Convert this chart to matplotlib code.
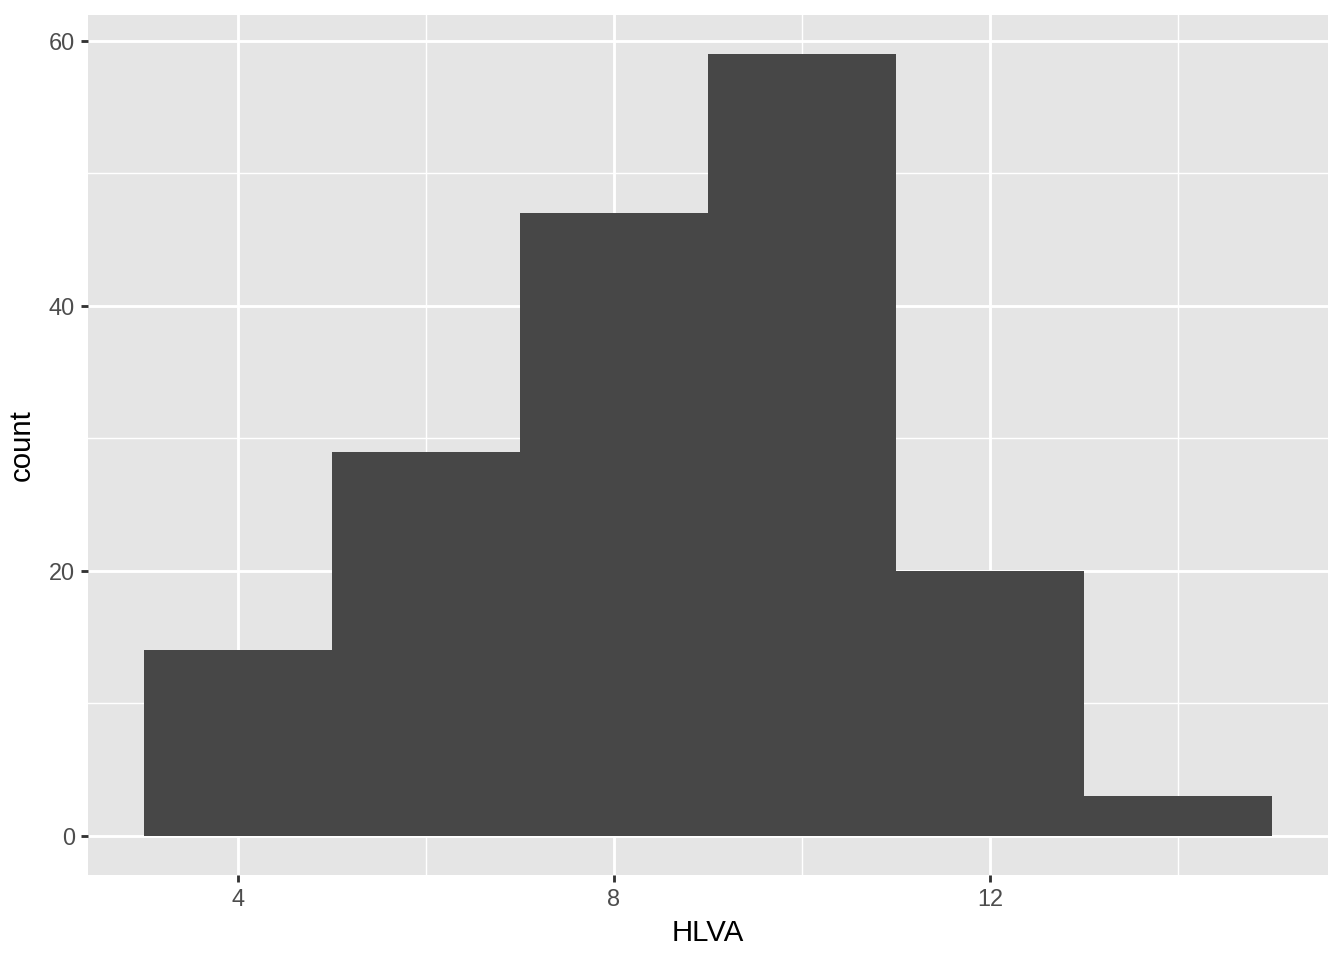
import matplotlib
matplotlib.use("Agg")
import matplotlib.pyplot as plt

# histogram of HLVA, binwidth 2
bin_edges = [3, 5, 7, 9, 11, 13, 15]
counts = [14, 29, 47, 59, 20, 3]
x_ticks = [4, 8, 12]
x_minor = [6, 10, 14]
y_ticks = [0, 20, 40, 60]
y_minor = [10, 30, 50]

plt.rcParams['font.family'] = ['Liberation Sans', 'DejaVu Sans']

fig = plt.figure(figsize=(7, 5), dpi=192)
ax = fig.add_axes([88/1344, 1 - 875/960, (1328-88)/1344, (875-15)/960])
ax.set_facecolor('#e5e5e5')

lefts = bin_edges[:-1]
widths = [b - a for a, b in zip(bin_edges[:-1], bin_edges[1:])]
ax.bar(lefts, counts, width=widths, align='edge', color='#474747', linewidth=0, zorder=3)

ax.set_xlim(2.4, 15.6)
ax.set_ylim(-2.95, 61.95)
ax.set_xticks(x_ticks)
ax.set_xticks(x_minor, minor=True)
ax.set_yticks(y_ticks)
ax.set_yticks(y_minor, minor=True)
ax.grid(which='major', color='white', linewidth=1.07, zorder=1)
ax.grid(which='minor', color='white', linewidth=0.53, zorder=1)
ax.set_axisbelow(True)
for s in ax.spines.values():
    s.set_visible(False)
ax.tick_params(which='major', length=2.75, width=1.07, color='#333333',
               labelsize=8.8, labelcolor='#4d4d4d', pad=2.2)
ax.tick_params(which='minor', length=0)

ax.set_xlabel('HLVA', fontsize=11, color='black', labelpad=3)
ax.set_ylabel('count', fontsize=11, color='black', labelpad=5)

fig.savefig('out.png', dpi=192)
